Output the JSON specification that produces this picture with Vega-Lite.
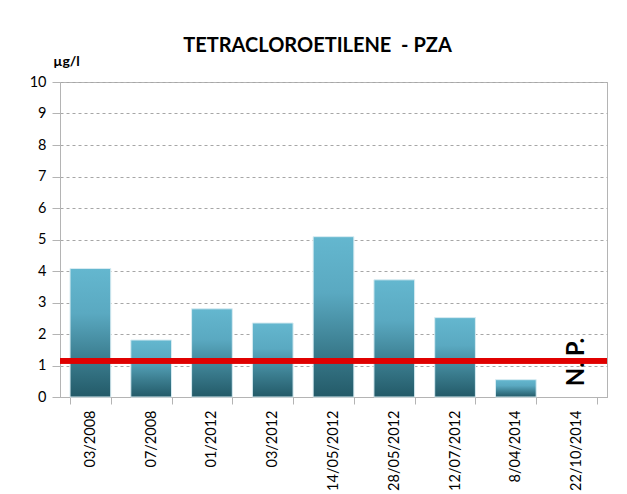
{
  "$schema": "https://vega.github.io/schema/vega-lite/v6.json",
  "autosize": {"type": "none"},
  "width": 547,
  "height": 315,
  "padding": {"left": 60, "top": 82, "right": 20, "bottom": 97},
  "background": "white",
  "title": {
    "text": "TETRACLOROETILENE\u00a0 - PZA",
    "font": "Lato",
    "fontSize": 20,
    "fontWeight": "bold",
    "color": "#000000",
    "anchor": "middle",
    "frame": "group",
    "dx": -16,
    "baseline": "alphabetic",
    "offset": -18
  },
  "config": {
    "view": {"stroke": "#b4b4b4", "strokeWidth": 1},
    "font": "Lato",
    "axisY": {
      "tickCount": 10,
      "labelFont": "Lato",
      "labelFontSize": 14.5,
      "labelColor": "#000000",
      "labelPadding": 6,
      "tickSize": 8,
      "tickColor": "#b4b4b4",
      "domainColor": "#b4b4b4",
      "grid": true,
      "gridColor": "#a6a6a6",
      "gridDash": [3, 3],
      "gridWidth": 1,
      "titleAngle": 0,
      "titleAlign": "center",
      "titleBaseline": "alphabetic",
      "titleX": 6,
      "titleY": -17,
      "titleFont": "Lato",
      "titleFontSize": 14,
      "titleFontWeight": "bold",
      "titleColor": "#000000"
    },
    "axisX": {
      "labelAngle": -90,
      "labelAlign": "right",
      "labelBaseline": "middle",
      "labelFont": "Lato",
      "labelFontSize": 14.5,
      "labelColor": "#000000",
      "labelPadding": 6,
      "tickBand": "extent",
      "tickSize": 7,
      "tickColor": "#b4b4b4",
      "domainColor": "#b4b4b4",
      "grid": false
    }
  },
  "data": {
    "values": [
      {"fecha": "03/2008", "valor": 4.08, "nota": null},
      {"fecha": "07/2008", "valor": 1.81, "nota": null},
      {"fecha": "01/2012", "valor": 2.8, "nota": null},
      {"fecha": "03/2012", "valor": 2.35, "nota": null},
      {"fecha": "14/05/2012", "valor": 5.09, "nota": null},
      {"fecha": "28/05/2012", "valor": 3.72, "nota": null},
      {"fecha": "12/07/2012", "valor": 2.52, "nota": null},
      {"fecha": "8/04/2014", "valor": 0.55, "nota": null},
      {"fecha": "22/10/2014", "valor": null, "nota": "N. P."}
    ]
  },
  "layer": [
    {
      "mark": {
        "type": "bar",
        "stroke": "#d8ecf2",
        "strokeWidth": 1,
        "color": {
          "gradient": "linear",
          "x1": 0, "y1": 0, "x2": 0, "y2": 1,
          "stops": [
            {"offset": 0, "color": "#64b7cf"},
            {"offset": 0.35, "color": "#5aa9c1"},
            {"offset": 0.7, "color": "#3b7d8f"},
            {"offset": 1, "color": "#235a68"}
          ]
        }
      },
      "encoding": {
        "x": {
          "field": "fecha",
          "type": "nominal",
          "sort": null,
          "title": null,
          "scale": {"paddingInner": 0.33, "paddingOuter": 0.165}
        },
        "y": {
          "field": "valor",
          "type": "quantitative",
          "title": "µg/l",
          "scale": {"domain": [0, 10], "nice": false}
        }
      }
    },
    {
      "transform": [{"filter": "datum.nota != null"}],
      "mark": {
        "type": "text",
        "angle": 270,
        "align": "center",
        "baseline": "middle",
        "font": "Lato",
        "fontSize": 24,
        "fontWeight": "bold",
        "color": "#000000"
      },
      "encoding": {
        "x": {"field": "fecha", "type": "nominal", "sort": null},
        "text": {"field": "nota"},
        "y": {"datum": 1.11, "type": "quantitative"}
      }
    },
    {
      "mark": {"type": "rule", "color": "#e00000", "strokeWidth": 5},
      "encoding": {"y": {"datum": 1.15, "type": "quantitative"}}
    }
  ]
}
